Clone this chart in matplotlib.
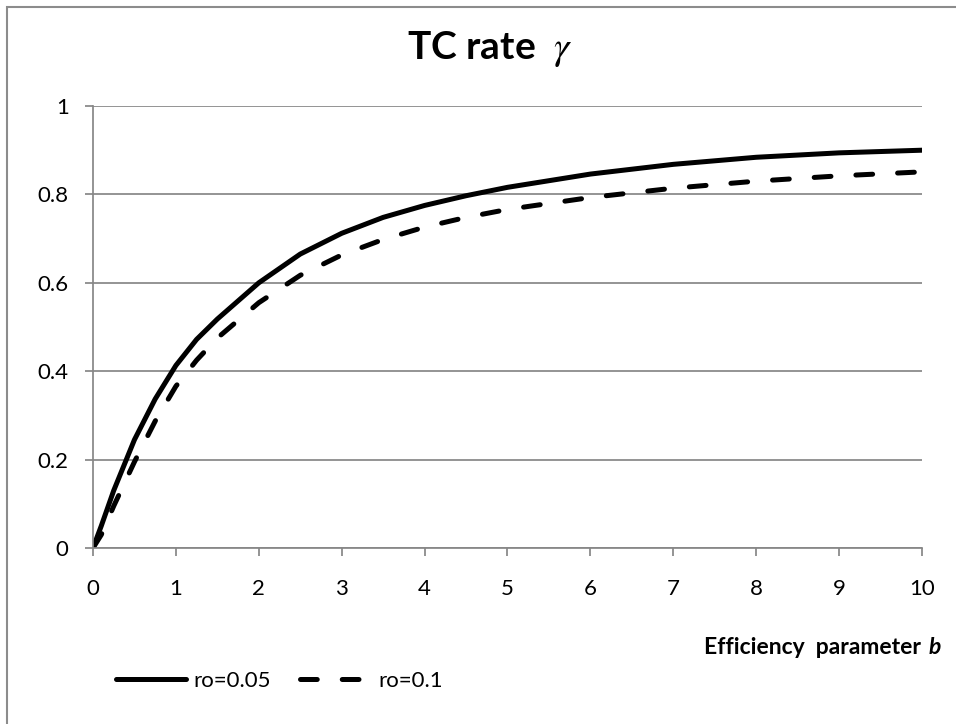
import matplotlib
matplotlib.use("Agg")
import matplotlib.pyplot as plt
from matplotlib.patches import Rectangle

plt.rcParams['font.family'] = ['Lato', 'DejaVu Sans']
plt.rcParams['mathtext.fontset'] = 'stix'

# efficiency parameter b and TC rate gamma
b = [0, 0.1, 0.25, 0.5, 0.75, 1, 1.25, 1.5, 2, 2.5, 3, 3.5, 4, 4.5, 5, 6, 7, 8, 9, 10]
ro_005 = [0, 0.05, 0.13, 0.245, 0.337, 0.413, 0.472, 0.518, 0.60, 0.665, 0.712, 0.748,
          0.775, 0.797, 0.816, 0.846, 0.868, 0.884, 0.894, 0.90]
ro_01 = [0, 0.03, 0.095, 0.195, 0.287, 0.366, 0.425, 0.475, 0.555, 0.617, 0.663, 0.698,
         0.726, 0.748, 0.766, 0.793, 0.814, 0.83, 0.842, 0.851]
labels = ['ro=0.05', 'ro=0.1']

W, H = 956, 724
grey = '#868686'

fig = plt.figure(figsize=(W / 100, H / 100), dpi=100)
ax = fig.add_axes([93 / W, 1 - 548 / H, (922 - 93) / W, (548 - 106) / H])

lw = 3.6
ax.plot(b, ro_005, color='black', lw=lw, solid_capstyle='round',
        solid_joinstyle='round', label=labels[0])
ax.plot(b, ro_01, color='black', lw=lw, dashes=(3.35, 5), dash_capstyle='round',
        dash_joinstyle='round', label=labels[1])

ax.set_xlim(0, 10)
ax.set_ylim(0, 1)
ax.set_xticks(range(0, 11))
ax.set_yticks([0, 0.2, 0.4, 0.6, 0.8, 1])
ax.set_yticklabels(['0', '0.2', '0.4', '0.6', '0.8', '1'])
ax.yaxis.grid(True, color=grey, lw=1.25)
ax.set_axisbelow(True)
for s in ['top', 'right']:
    ax.spines[s].set_visible(False)
for s in ['left', 'bottom']:
    ax.spines[s].set_color(grey)
    ax.spines[s].set_linewidth(1.25)
ax.tick_params(axis='both', color=grey, width=1.25, length=5.5, labelsize=16)
ax.tick_params(axis='x', pad=17)
ax.tick_params(axis='y', pad=12)

# title
fig.text(490 / W, 1 - 49 / H, r'TC rate  $\gamma$', ha='center', va='center',
         fontsize=28, fontweight='bold')

# axis title with bold italic b
fig.text(941 / W, 1 - 648 / H, 'b', ha='right', va='center', fontsize=16.5,
         fontweight='bold', fontstyle='italic')
fig.text(921 / W, 1 - 648 / H, 'Efficiency  parameter', ha='right', va='center',
         fontsize=16.5, fontweight='bold')

fig.legend(loc='center left', bbox_to_anchor=(116 / W, 1 - 681 / H), ncol=2,
           frameon=False, fontsize=16, handlelength=3.15, handletextpad=0.35,
           columnspacing=1.3, borderpad=0, borderaxespad=0)

# chart area border (only top and left visible in the crop)
fig.add_artist(Rectangle((7 / W, -1), 2, 1 + (1 - 7 / H), transform=fig.transFigure,
                         fill=False, edgecolor='#8c8c8c', lw=1.5))

fig.savefig('out.png', dpi=100)
